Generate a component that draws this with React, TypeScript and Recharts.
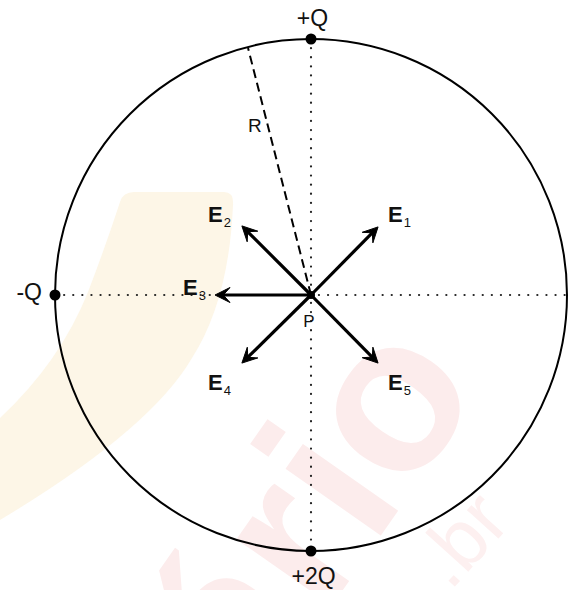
import React from "react";
import { ComposedChart, XAxis, YAxis, Scatter, ReferenceLine, ReferenceDot, ReferenceArea } from "recharts";

// ---- data (units: circle radius = 1, P at origin) ----
const charges = [
  { name: "+Q", x: 0, y: 1 },
  { name: "-Q", x: -1, y: 0 },
  { name: "+2Q", x: 0, y: -1 },
];
const fieldNames = ["E1", "E2", "E3", "E4", "E5"];
const fieldTipX = [0.262, -0.27, -0.375, -0.27, 0.262];
const fieldTipY = [0.266, 0.27, 0, -0.266, -0.266];
const fieldLabelX = [0.301, -0.402, -0.5, -0.402, 0.301];
const fieldLabelY = [0.285, 0.285, 0, -0.371, -0.371];
const radiusEnd = { x: -0.246, y: 0.965 };
const chargeLabels = ["+Q", "-Q", "+2Q"];
const chargeLabelX = [0.006, -1.051, 0.01];
const chargeLabelY = [1.051, -0.02, -1.13];
const chargeLabelAnchor = ["middle", "end", "middle"];
const X_DOMAIN = [-311 / 256, 262 / 256];
const Y_DOMAIN = [-295 / 256, 295 / 256];

const W = 573;
const H = 590;
const FONT = "'Liberation Sans', Arial, Helvetica, sans-serif";

const arrowShape = (p: any) => {
  const { x1, y1, x2, y2 } = p;
  const dx = x2 - x1;
  const dy = y2 - y1;
  const len = Math.sqrt(dx * dx + dy * dy) || 1;
  const ux = dx / len;
  const uy = dy / len;
  const nx = -uy;
  const ny = ux;
  const L = 15;
  const Wd = 7.5;
  const bx = x2 - L * ux;
  const by = y2 - L * uy;
  const notchX = x2 - L * 0.55 * ux;
  const notchY = y2 - L * 0.55 * uy;
  const d = `M${x2},${y2} L${bx + Wd * nx},${by + Wd * ny} L${notchX},${notchY} L${bx - Wd * nx},${by - Wd * ny} Z`;
  return (
    <g>
      <line x1={x1} y1={y1} x2={notchX + ux * 2} y2={notchY + uy * 2} stroke="#000" strokeWidth={3.2} />
      <path d={d} fill="#000" stroke="#000" strokeWidth={1} strokeLinejoin="miter" />
    </g>
  );
};

const circleShape = (p: any) => {
  const { x1, y1, x2, y2 } = p;
  const cx = (x1 + x2) / 2;
  const cy = (y1 + y2) / 2;
  const r = Math.abs(x2 - x1) / 2;
  return <circle cx={cx} cy={cy} r={r} fill="none" stroke="#000" strokeWidth={2} />;
};

// faint watermark behind the drawing
const watermarkShape = (p: any) => {
  const ox = p.x;
  const oy = p.y;
  const pink = "#fcecec";
  const ax = ox + 372;
  const ay = oy + 548;
  return (
    <g>
      <path
        d={`M${ox + 120},${oy + 202} Q${ox + 123},${oy + 192} ${ox + 134},${oy + 192} L${ox + 224},${oy + 192} Q${ox + 234},${oy + 192} ${ox + 233},${oy + 205} Q${ox + 229},${oy + 300} ${ox + 192},${oy + 358} Q${ox + 150},${oy + 430} ${ox + 0},${oy + 520} L${ox + 0},${oy + 418} Q${ox + 60},${oy + 362} ${ox + 88},${oy + 292} Q${ox + 106},${oy + 245} ${ox + 120},${oy + 202} Z`}
        fill="#fdf6e7"
      />
      <text
        x={ax}
        y={ay}
        textAnchor="end"
        fontFamily={FONT}
        fontWeight="bold"
        fontSize={220}
        fill={pink}
        transform={`rotate(-55 ${ax} ${ay})`}
      >
        ár
      </text>
      <text
        x={ax}
        y={ay}
        fontFamily={FONT}
        fontWeight="bold"
        fontSize={220}
        fill={pink}
        transform={`rotate(-55 ${ax} ${ay})`}
      >
        io
      </text>
      <text
        x={ox + 450}
        y={oy + 592}
        fontFamily={FONT}
        fontSize={80}
        fill="#fdf0f0"
        transform={`rotate(-48 ${ox + 450} ${oy + 592})`}
      >
        .br
      </text>
    </g>
  );
};

const fieldLabelShape = (name: string) => (p: any) => {
  const { cx, cy } = p;
  return (
    <text x={cx} y={cy} fontFamily={FONT} fill="#111">
      <tspan fontWeight="bold" fontSize={22}>{name[0]}</tspan>
      <tspan fontSize={13} dy={5} dx={1}>{name.slice(1)}</tspan>
    </text>
  );
};

const plainLabelShape = (text: string, anchor: string, size: number) => (p: any) => {
  const { cx, cy } = p;
  return (
    <text x={cx} y={cy} textAnchor={anchor as any} fontFamily={FONT} fontSize={size} fill="#111">
      {text}
    </text>
  );
};

const chargeDot = (p: any) => <circle cx={p.cx} cy={p.cy} r={5.5} fill="#000" />;

export default function App() {
  return (
    <div style={{ position: "absolute", left: 0, top: 0, width: W, height: H, background: "#fff" }}>
      <ComposedChart width={W} height={H} margin={{ top: 0, right: 0, bottom: 0, left: 0 }}>
        <XAxis type="number" dataKey="x" domain={X_DOMAIN} hide allowDataOverflow />
        <YAxis type="number" dataKey="y" domain={Y_DOMAIN} hide allowDataOverflow />
        <ReferenceArea
          x1={X_DOMAIN[0]}
          x2={X_DOMAIN[1]}
          y1={Y_DOMAIN[0]}
          y2={Y_DOMAIN[1]}
          ifOverflow="visible"
          shape={watermarkShape}
        />
        <ReferenceLine
          segment={[{ x: -1, y: 0 }, { x: 1, y: 0 }]}
          ifOverflow="visible"
          shape={circleShape}
        />
        <ReferenceLine
          segment={[{ x: -1, y: 0 }, { x: 1, y: 0 }]}
          stroke="#222"
          strokeWidth={2.2}
          strokeDasharray="0.1 9"
          strokeLinecap="round"
          ifOverflow="visible"
        />
        <ReferenceLine
          segment={[{ x: 0, y: 1 }, { x: 0, y: -1 }]}
          stroke="#222"
          strokeWidth={2.2}
          strokeDasharray="0.1 9"
          strokeLinecap="round"
          ifOverflow="visible"
        />
        <ReferenceLine
          segment={[{ x: 0, y: 0 }, radiusEnd]}
          stroke="#000"
          strokeWidth={2}
          strokeDasharray="9 5"
          ifOverflow="visible"
        />
        {fieldNames.map((n, i) => (
          <ReferenceLine
            key={n}
            segment={[{ x: 0, y: 0 }, { x: fieldTipX[i], y: fieldTipY[i] }]}
            ifOverflow="visible"
            shape={arrowShape}
          />
        ))}
        <ReferenceDot x={0} y={0} r={4} fill="#000" stroke="none" ifOverflow="visible" />
        <Scatter data={charges} isAnimationActive={false} shape={chargeDot} />
        {fieldNames.map((n, i) => (
          <ReferenceDot
            key={"l" + n}
            x={fieldLabelX[i]}
            y={fieldLabelY[i]}
            r={1}
            ifOverflow="visible"
            shape={fieldLabelShape(n)}
          />
        ))}
        {chargeLabels.map((t, i) => (
          <ReferenceDot
            key={"c" + t}
            x={chargeLabelX[i]}
            y={chargeLabelY[i]}
            r={1}
            ifOverflow="visible"
            shape={plainLabelShape(t, chargeLabelAnchor[i], 23)}
          />
        ))}
        <ReferenceDot x={-0.008} y={-0.125} r={1} ifOverflow="visible" shape={plainLabelShape("P", "middle", 17)} />
        <ReferenceDot x={-0.246} y={0.637} r={1} ifOverflow="visible" shape={plainLabelShape("R", "start", 19)} />
      </ComposedChart>
    </div>
  );
}
